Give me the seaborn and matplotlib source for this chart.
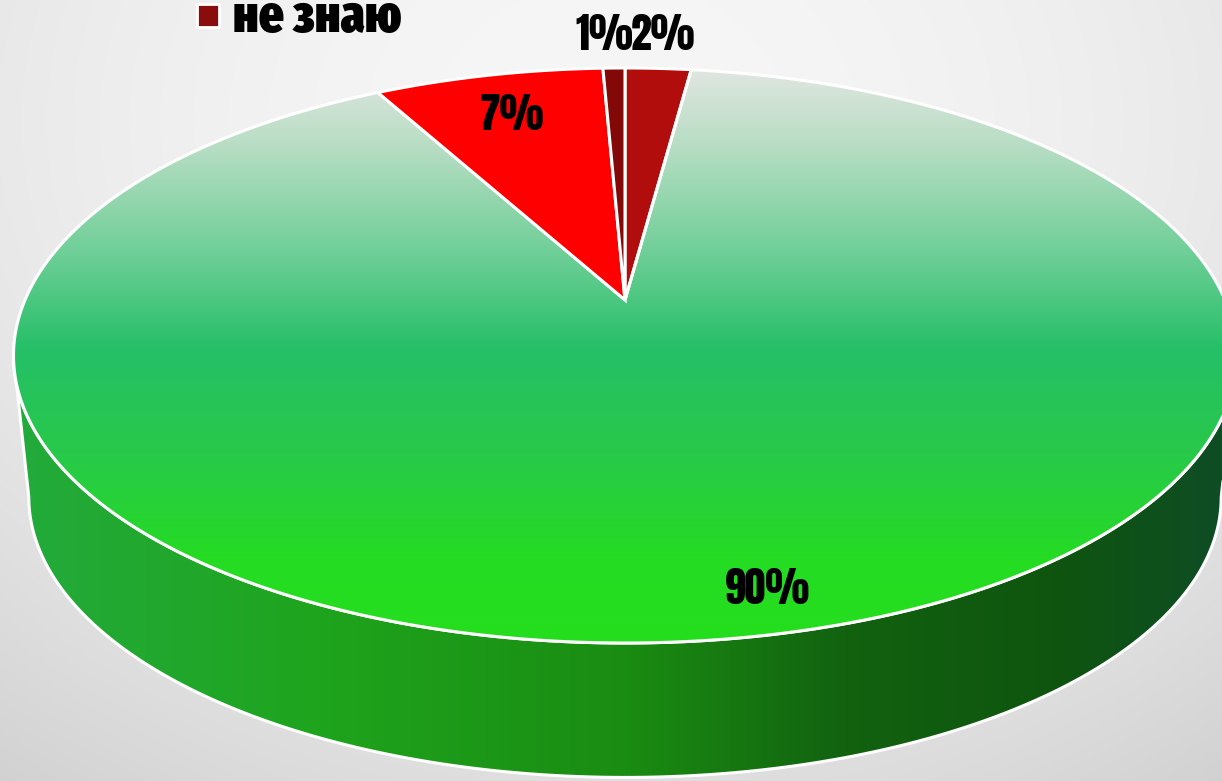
import numpy as np
import matplotlib
matplotlib.use("Agg")
import matplotlib.pyplot as plt
import seaborn as sns
from matplotlib.patches import Polygon, Rectangle

# ---------------- data (clockwise from 12 o'clock) ----------------
categories = ["вариант 1", "вариант 2", "вариант 3", "не знаю"]
values = [2.1, 89.9, 7.3, 0.7]
slice_colors = ["#b20d0d", "green_gradient", "#ff0000", "#830808"]
legend_shown = ["не знаю"]

# ---------------- style / geometry ----------------
sns.set_theme(style="white")
FONT = ['Anton', 'Fira Sans Extra Condensed', 'DejaVu Sans']
plt.rcParams['font.family'] = FONT

W, H = 1222, 781
fig = plt.figure(figsize=(W / 100, H / 100), dpi=100)
ax = fig.add_axes([0, 0, 1, 1])
ax.set_xlim(0, W)
ax.set_ylim(H, 0)
ax.axis('off')

CX, CY = 625, 300          # projected pie centre
A, B, K = 600, 276.8, 0.193  # perspective ellipse parameters
DEPTH, BSCALE = 143, 0.975   # side height / bottom face shrink
label_radius = [1.18, 0.89, 0.80, 1.18]
label_shift = [0.0, -2.2, 0.0, -0.8]   # degrees


def proj(theta_deg, r=1.0, bottom=False):
    t = np.radians(theta_deg)
    u = r * np.sin(t)
    v = r * np.cos(t)
    s = 1.0 / (1.0 + K * v)
    if bottom:
        return CX + BSCALE * A * u * s, CY + DEPTH - BSCALE * B * v * s
    return CX + A * u * s, CY - B * v * s


def gradient_image(stops, n=400):
    pos = np.array([p for p, _ in stops])
    cols = np.array([matplotlib.colors.to_rgb(c) for _, c in stops])
    t = np.linspace(0, 1, n)
    return np.stack([np.interp(t, pos, cols[:, i]) for i in range(3)], axis=-1)


# background (soft radial grey)
yy, xx = np.mgrid[0:H:3, 0:W:3]
d2 = ((xx - 611) / 900.0) ** 2 + ((yy - 120) / 720.0) ** 2
bg = np.clip(0.965 - 0.11 * d2, 0.78, 1.0)
ax.imshow(np.dstack([bg, bg, bg]), extent=[0, W, H, 0], zorder=0, interpolation='bilinear')

# ---------------- side wall ----------------
th_r = 90 + np.degrees(np.arcsin(K))
th_l = 270 - np.degrees(np.arcsin(K))
ths = np.linspace(th_r, th_l, 300)
top_arc = np.array([proj(t) for t in ths])
bot_arc = np.array([proj(t, bottom=True) for t in ths])
side_poly = np.vstack([top_arc, bot_arc[::-1]])
side = Polygon(side_poly, closed=True, facecolor='none', edgecolor='white', lw=2.2, zorder=3)
ax.add_patch(side)
side_grad = gradient_image([(0.0, "#23ab3c"), (0.25, "#1fa41d"), (0.5, "#1a8c12"),
                            (0.68, "#126210"), (0.85, "#0f550f"), (1.0, "#0e4c26")])
xmin, xmax = side_poly[:, 0].min(), side_poly[:, 0].max()
im = ax.imshow(side_grad[np.newaxis, :, :], extent=[xmin, xmax, H, 0], aspect='auto',
               zorder=2, interpolation='bilinear')
im.set_clip_path(Polygon(side_poly, closed=True, transform=ax.transData))

# ---------------- top face ----------------
top_grad = gradient_image([(0.0, "#e1e6e1"), (0.14, "#b6ddc3"), (0.32, "#70cf98"),
                           (0.49, "#25bf68"), (0.67, "#28c94a"), (0.86, "#25dc22"),
                           (1.0, "#24df1e")])
y_top, y_bot = proj(0)[1], proj(180)[1]
total = float(sum(values))
start = 0.0
mids = []
for val, col in zip(values, slice_colors):
    a0 = start / total * 360.0
    a1 = (start + val) / total * 360.0
    mids.append((a0 + a1) / 2)
    arc = np.array([proj(t) for t in np.linspace(a0, a1, max(int((a1 - a0) * 2), 8))])
    pts = np.vstack([[CX, CY], arc])
    if col == "green_gradient":
        ax.add_patch(Polygon(pts, closed=True, facecolor='none', edgecolor='white', lw=2.2, zorder=5))
        img = ax.imshow(top_grad[:, np.newaxis, :], extent=[0, W, y_bot, y_top], aspect='auto',
                        zorder=4, interpolation='bilinear')
        img.set_clip_path(Polygon(pts, closed=True, transform=ax.transData))
    else:
        ax.add_patch(Polygon(pts, closed=True, facecolor=col, edgecolor='white', lw=2.2, zorder=5))
    start += val

# ---------------- data labels ----------------
for val, mid, r, sh in zip(values, mids, label_radius, label_shift):
    x, y = proj(mid + sh, r)
    ax.text(x, y, f"{round(val):d}%", ha='center', va='center', fontsize=30,
            color='black', zorder=8)

# ---------------- legend (partially cut at top) ----------------
ax.add_patch(Rectangle((197, 4), 22, 23, facecolor="#8a0c0c", edgecolor='white', lw=2, zorder=8))
ax.text(233, 32, legend_shown[0], ha='left', va='baseline', fontsize=38,
        family=['Fira Sans Extra Condensed', 'DejaVu Sans'], fontweight=900,
        color='black', zorder=8)

fig.savefig("out.png", dpi=100)
